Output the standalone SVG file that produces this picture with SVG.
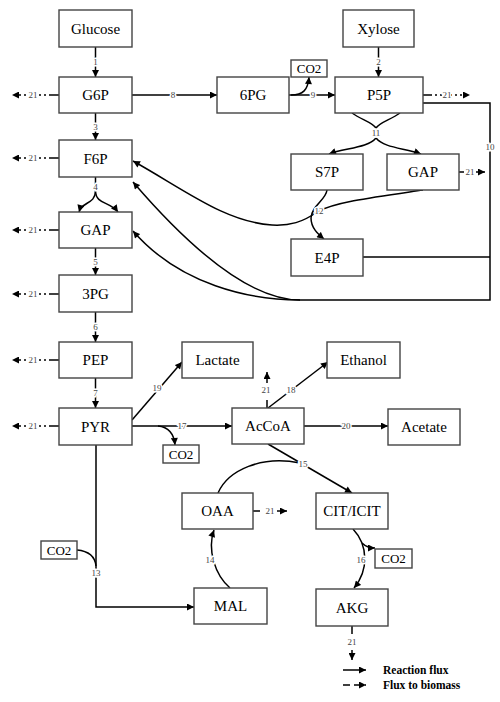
<svg xmlns="http://www.w3.org/2000/svg" width="500" height="702" viewBox="0 0 500 702" font-family="'Liberation Serif', 'Times New Roman', Times, serif">
<style>
text{font-family:'Liberation Serif','Times New Roman',Times,serif}
.n rect{fill:#fff;stroke:#444;stroke-width:1.4}
.n text{font-size:15px;fill:#000;text-anchor:middle;dominant-baseline:central}
.n.s text{font-size:13px}
.c path{fill:none;stroke:#000;stroke-width:1.5}
.c .a{marker-end:url(#ah)}
.c .d{stroke-dasharray:2,3}
.lb{font-size:9px;fill:#444;stroke:#fff;stroke-width:3;paint-order:stroke;text-anchor:middle;dominant-baseline:central}
.lg{font-size:11.5px;font-weight:bold;fill:#000;dominant-baseline:central}
</style>
<defs>
<marker id="ah" viewBox="0 0 10 10" refX="10" refY="5" markerWidth="8" markerHeight="7" markerUnits="userSpaceOnUse" orient="auto"><path d="M0,0 L10,5 L0,10 z" fill="#000"/></marker>
</defs>
<g id="connectors" class="c">
<path class="a" d="M95.5 47 V77"/>
<path class="a" d="M95.5 113 V140"/>
<path d="M95.5 177 V191"/>
<path class="a" d="M95.5 191 C95 205 82 201 79 212"/>
<path class="a" d="M95.5 191 C96 205 110 201 118 212"/>
<path class="a" d="M95.5 248 V275"/>
<path class="a" d="M95.5 312 V342"/>
<path class="a" d="M95.5 378 V408"/>
<path d="M59 95 H51"/><path class="a d" d="M51 95 H12"/>
<path d="M59 158 H51"/><path class="a d" d="M51 158 H12"/>
<path d="M59 230 H51"/><path class="a d" d="M51 230 H12"/>
<path d="M59 294 H51"/><path class="a d" d="M51 294 H12"/>
<path d="M59 360 H51"/><path class="a d" d="M51 360 H12"/>
<path d="M59 426 H51"/><path class="a d" d="M51 426 H12"/>
<path class="a" d="M132 95 H217"/>
<path class="a" d="M289 95 H335"/>
<path class="a" d="M291 95 C303 95 308 90 309 77"/>
<path class="a" d="M378.5 47 V77"/>
<path d="M423 95 H430"/><path class="a d" d="M430 95 H470"/>
<path d="M352 113 C362 120 372 122 376 128"/>
<path d="M400 113 C390 120 380 122 376 128"/>
<path class="a" d="M376 138 C368 148 345 148 329 154"/>
<path class="a" d="M376 138 C384 148 405 148 421 154"/>
<path d="M459 172 H464"/><path class="a" d="M476 172 H485"/>
<path d="M423 103 H490 V300 H300"/>
<path d="M363 257 H490"/>
<path class="a" d="M300 300 C255 300 200 260 133 182"/>
<path class="a" d="M300 300 C250 300 180 285 133 231"/>
<path class="a" d="M327 190 C326 200 312 205 311 218 C311 228 318 234 324 239"/>
<path class="a" d="M423 190 C375 197 335 202 317 212 C303 222 290 226 272 225 C225 222 185 190 133 161"/>
<path class="a" d="M132 420 L182 362"/>
<path class="a" d="M132 426 H232"/>
<path class="a" d="M158 426 C168 427 174 434 175 445"/>
<path class="a" d="M268 408 L328 362"/>
<path d="M267 408 V400"/><path class="a" d="M267 383 V372"/>
<path class="a" d="M304 426 H388"/>
<path class="a" d="M268 444 L352 493"/>
<path d="M218 493 C228 470 262 455 300 463"/>
<path class="a" d="M230 588 C215 575 207 550 214 530"/>
<path d="M253 511 H260"/><path class="a" d="M277 511 H287"/>
<path class="a" d="M353 529 C368 545 369 570 354 588"/>
<path class="a" d="M362 543 C365 546 369 548 375 548"/>
<path d="M352 626 V634"/><path class="a" d="M352 650 V660"/>
<path class="a" d="M96 445 V607 H194"/>
<path d="M77 550 C88 551 95 556 96 566"/>
<path class="a" d="M343 670 H366"/>
<path class="a" d="M343 685 H366" stroke-dasharray="7,4"/>
</g>
<g id="labels">
<text class="lb" x="95.5" y="62">1</text>
<text class="lb" x="95.5" y="127">3</text>
<text class="lb" x="95.5" y="187">4</text>
<text class="lb" x="95.5" y="262">5</text>
<text class="lb" x="95.5" y="327">6</text>
<text class="lb" x="95.5" y="393">7</text>
<text class="lb" x="33" y="95">21</text>
<text class="lb" x="33" y="158">21</text>
<text class="lb" x="33" y="230">21</text>
<text class="lb" x="33" y="294">21</text>
<text class="lb" x="33" y="360">21</text>
<text class="lb" x="33" y="426">21</text>
<text class="lb" x="173" y="95">8</text>
<text class="lb" x="313" y="95">9</text>
<text class="lb" x="378.5" y="62">2</text>
<text class="lb" x="447" y="95">21</text>
<text class="lb" x="376" y="133">11</text>
<text class="lb" x="470" y="172">21</text>
<text class="lb" x="490" y="147">10</text>
<text class="lb" x="319" y="211">12</text>
<text class="lb" x="157" y="388">19</text>
<text class="lb" x="182" y="426">17</text>
<text class="lb" x="291" y="390">18</text>
<text class="lb" x="266" y="390">21</text>
<text class="lb" x="346" y="426">20</text>
<text class="lb" x="303" y="464">15</text>
<text class="lb" x="210" y="560">14</text>
<text class="lb" x="270" y="511">21</text>
<text class="lb" x="361" y="560">16</text>
<text class="lb" x="352" y="642">21</text>
<text class="lb" x="96" y="573">13</text>
</g>
<g id="n-glucose" class="n"><rect x="59" y="10" width="73" height="37"/><text x="95.5" y="28.5">Glucose</text></g>
<g id="n-g6p" class="n"><rect x="59" y="77" width="73" height="36"/><text x="95.5" y="95">G6P</text></g>
<g id="n-f6p" class="n"><rect x="59" y="140" width="73" height="37"/><text x="95.5" y="158.5">F6P</text></g>
<g id="n-gap" class="n"><rect x="59" y="212" width="73" height="36"/><text x="95.5" y="230">GAP</text></g>
<g id="n-3pg" class="n"><rect x="59" y="275" width="73" height="37"/><text x="95.5" y="293.5">3PG</text></g>
<g id="n-pep" class="n"><rect x="59" y="342" width="73" height="36"/><text x="95.5" y="360">PEP</text></g>
<g id="n-pyr" class="n"><rect x="59" y="408" width="73" height="37"/><text x="95.5" y="426.5">PYR</text></g>
<g id="n-6pg" class="n"><rect x="217" y="77" width="72" height="36"/><text x="253" y="95">6PG</text></g>
<g id="n-co2-a" class="n s"><rect x="291" y="60" width="36" height="17"/><text x="309" y="68.5">CO2</text></g>
<g id="n-xylose" class="n"><rect x="343" y="10" width="71" height="37"/><text x="378.5" y="28.5">Xylose</text></g>
<g id="n-p5p" class="n"><rect x="335" y="77" width="88" height="36"/><text x="379" y="95">P5P</text></g>
<g id="n-s7p" class="n"><rect x="291" y="154" width="72" height="36"/><text x="327" y="172">S7P</text></g>
<g id="n-gap2" class="n"><rect x="387" y="154" width="72" height="36"/><text x="423" y="172">GAP</text></g>
<g id="n-e4p" class="n"><rect x="291" y="239" width="72" height="37"/><text x="327" y="257.5">E4P</text></g>
<g id="n-lactate" class="n"><rect x="182" y="342" width="71" height="36"/><text x="217.5" y="360">Lactate</text></g>
<g id="n-ethanol" class="n"><rect x="327" y="342" width="73" height="36"/><text x="363.5" y="360">Ethanol</text></g>
<g id="n-accoa" class="n"><rect x="232" y="408" width="72" height="36"/><text x="268" y="426">AcCoA</text></g>
<g id="n-acetate" class="n"><rect x="388" y="409" width="72" height="36"/><text x="424" y="427">Acetate</text></g>
<g id="n-co2-b" class="n s"><rect x="163" y="445" width="36" height="18"/><text x="181" y="454">CO2</text></g>
<g id="n-oaa" class="n"><rect x="182" y="493" width="71" height="36"/><text x="217.5" y="511">OAA</text></g>
<g id="n-cit" class="n"><rect x="316" y="493" width="72" height="36"/><text x="352" y="511">CIT/ICIT</text></g>
<g id="n-co2-c" class="n s"><rect x="41" y="541" width="36" height="18"/><text x="59" y="550">CO2</text></g>
<g id="n-co2-d" class="n s"><rect x="375" y="549" width="37" height="19"/><text x="393.5" y="558.5">CO2</text></g>
<g id="n-mal" class="n"><rect x="194" y="588" width="73" height="36"/><text x="230.5" y="606">MAL</text></g>
<g id="n-akg" class="n"><rect x="316" y="589" width="72" height="37"/><text x="352" y="607.5">AKG</text></g>
<g id="legend">
<text class="lg" x="383" y="670">Reaction flux</text>
<text class="lg" x="383" y="685">Flux to biomass</text>
</g>
</svg>
